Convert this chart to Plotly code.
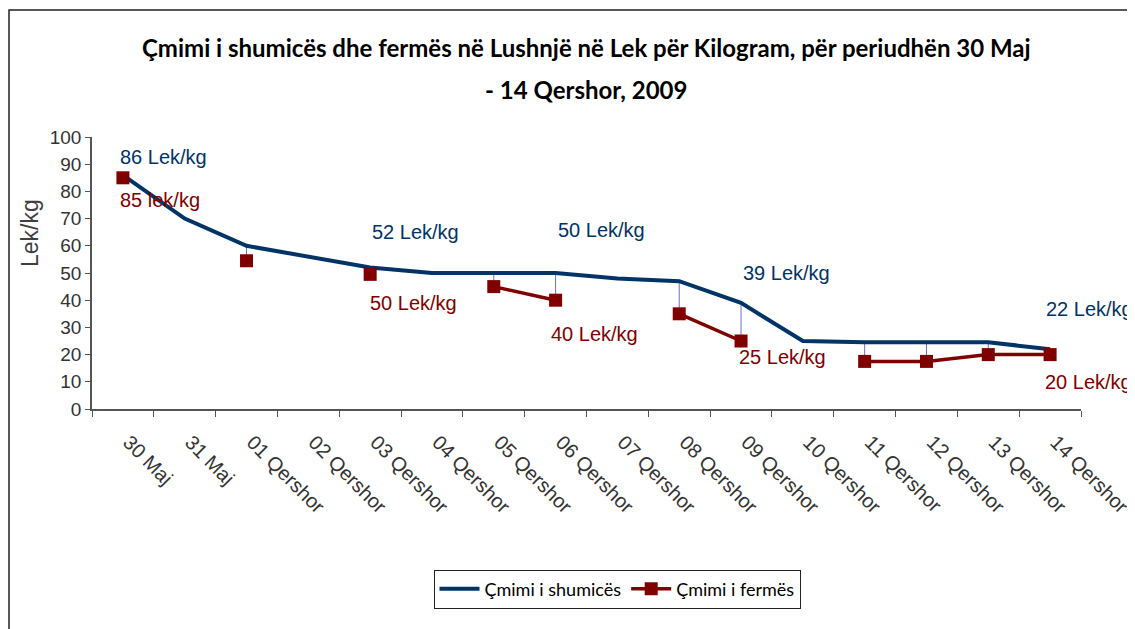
import plotly.graph_objects as go

# ---------------- data ----------------
dates = ["30 Maj", "31 Maj", "01 Qershor", "02 Qershor", "03 Qershor", "04 Qershor",
         "05 Qershor", "06 Qershor", "07 Qershor", "08 Qershor", "09 Qershor",
         "10 Qershor", "11 Qershor", "12 Qershor", "13 Qershor", "14 Qershor"]
wholesale = [86, 70, 60, 56, 52, 50, 50, 50, 48, 47, 39, 25, 24.5, 24.5, 24.5, 22]
farm = [85, None, 54.5, None, 49.5, None, 45, 40, None, 35, 25, None, 17.5, 17.5, 20, 20]

wholesale_labels = {0: "86 Lek/kg", 4: "52 Lek/kg", 7: "50 Lek/kg", 10: "39 Lek/kg", 15: "22 Lek/kg"}
farm_labels = {0: "85 lek/kg", 4: "50 Lek/kg", 7: "40 Lek/kg", 10: "25 Lek/kg", 15: "20 Lek/kg"}

series_names = ["Çmimi i shumicës", "Çmimi i fermës"]
title_lines = ["Çmimi i shumicës dhe fermës në Lushnjë në Lek për Kilogram, për periudhën 30 Maj",
               "- 14 Qershor, 2009"]
y_title = "Lek/kg"

# ---------------- layout helpers ----------------
W, H = 1135, 629
OFF = 8  # page body margin offset
PL, PR, PT, PB = 92, 1081, 137, 409  # plot area in screen pixels


def px_x(px):
    return (px - PL) / (PR - PL)


def px_y(py):
    return (PB - py) / (PB - PT)


BLUE = "#003366"
RED = "#800000"
SANS = "Liberation Sans, Arial, sans-serif"
GILL = "Lato, Gill Sans MT, Open Sans, sans-serif"

fig = go.Figure()

# high-low lines between the series
hl_x, hl_y = [], []
for d, w, f in zip(dates, wholesale, farm):
    if w is not None and f is not None:
        hl_x += [d, d, None]
        hl_y += [w, f, None]
fig.add_trace(go.Scatter(x=hl_x, y=hl_y, mode="lines", line=dict(color="#6b6bd0", width=1),
                         showlegend=False, hoverinfo="skip"))

fig.add_trace(go.Scatter(x=dates, y=wholesale, mode="lines", name=series_names[0],
                         line=dict(color=BLUE, width=4)))
fig.add_trace(go.Scatter(x=dates, y=farm, mode="lines+markers", name=series_names[1],
                         line=dict(color=RED, width=3.5), connectgaps=False,
                         marker=dict(symbol="square", size=13, color=RED)))

# data labels (offsets in pixels)
w_off = {0: (-5, 18), 4: (0, 36), 7: (0, 43), 10: (0, 30), 15: (-6, 40)}
f_off = {0: (-5, -22), 4: (-2, -29), 7: (-7, -34), 10: (-4, -16), 15: (-7, -27)}
annotations = []
for i, txt in wholesale_labels.items():
    dx, dy = w_off[i]
    annotations.append(dict(x=dates[i], y=wholesale[i], text=txt, showarrow=False,
                            xanchor="left", yanchor="middle", xshift=dx, yshift=dy,
                            font=dict(family=SANS, size=20, color=BLUE)))
for i, txt in farm_labels.items():
    dx, dy = f_off[i]
    annotations.append(dict(x=dates[i], y=farm[i], text=txt, showarrow=False,
                            xanchor="left", yanchor="middle", xshift=dx, yshift=dy,
                            font=dict(family=SANS, size=20, color=RED)))

# title lines
annotations.append(dict(xref="paper", yref="paper", x=px_x(586), y=px_y(47), text="<b>%s</b>" % title_lines[0],
                        showarrow=False, xanchor="center", yanchor="middle",
                        font=dict(family=GILL, size=24, color="black")))
annotations.append(dict(xref="paper", yref="paper", x=px_x(586), y=px_y(90), text="<b>%s</b>" % title_lines[1],
                        showarrow=False, xanchor="center", yanchor="middle",
                        font=dict(family=GILL, size=24, color="black")))
# y axis title
annotations.append(dict(xref="paper", yref="paper", x=px_x(30), y=px_y(233), text=y_title,
                        showarrow=False, textangle=-90, xanchor="center", yanchor="middle",
                        font=dict(family=SANS, size=23, color="#404040")))

fig.update_layout(
    width=W, height=H, autosize=False,
    margin=dict(l=PL - OFF, r=W - (PR - OFF), t=PT - OFF, b=H - (PB - OFF), autoexpand=False),
    paper_bgcolor="white", plot_bgcolor="white",
    annotations=annotations,
    showlegend=True,
    legend=dict(orientation="h", x=px_x(617), y=px_y(589), xanchor="center", yanchor="middle",
                bordercolor="#222222", borderwidth=1, bgcolor="white", itemwidth=40,
                font=dict(family=GILL, size=18, color="black")),
    shapes=[dict(type="rect", xref="paper", yref="paper", x0=px_x(9), x1=px_x(1300),
                 y0=px_y(800), y1=px_y(10), line=dict(color="#222222", width=1.5),
                 fillcolor="rgba(0,0,0,0)", layer="below")],
    xaxis=dict(type="category", categoryorder="array", categoryarray=dates,
               range=[-0.5, len(dates) - 0.5], showline=True, linecolor="#555555",
               linewidth=1.5, ticks="outside", tickson="boundaries", ticklen=6, tickcolor="#555555",
               tickangle=45, tickfont=dict(family=SANS, size=20, color="#333333"),
               ticklabelstandoff=12, ticklabelshift=6,
               showgrid=False, zeroline=False, automargin=False),
    yaxis=dict(range=[0, 100], dtick=10, showline=True, linecolor="#555555", linewidth=1.5,
               ticks="outside", ticklen=5, tickcolor="#555555",
               tickfont=dict(family=SANS, size=19, color="#333333"),
               showgrid=False, zeroline=False, automargin=False),
)

fig.write_html("out.html")
